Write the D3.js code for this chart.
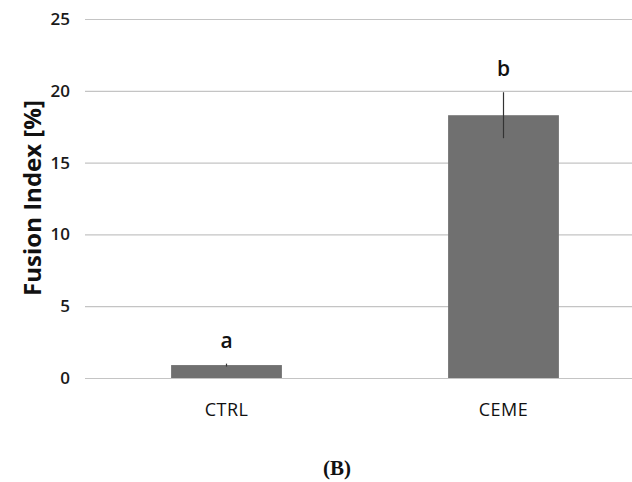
<!DOCTYPE html>
<html>
<head>
<meta charset="utf-8">
<script src="https://cdn.jsdelivr.net/npm/d3@7"></script>
<style>
  body { margin: 0; background: #fff; }
</style>
</head>
<body>
<div id="chart"></div>
<script>
// dados
var categories = ["CTRL", "CEME"];
var values = [0.9, 18.3];
var errors = [0.1, 1.6];
var letters = ["a", "b"];
var yTicks = [0, 5, 10, 15, 20, 25];

var W = 632, H = 482;

var svg = d3.select("#chart")
            .append("svg")
            .attr("width", W)
            .attr("height", H);

// escalas
var xScale = d3.scaleBand()
               .domain(categories)
               .range([88, 642])
               .paddingInner(0.6)
               .paddingOuter(0.3);

var yScale = d3.scaleLinear()
               .domain([0, 25])
               .range([378, 19]);

// grade horizontal
var yAxis = svg.append("g")
   .attr("transform", "translate(85,0)")
   .call(d3.axisLeft(yScale).tickValues(yTicks).tickSize(-(W - 85)).tickPadding(15));

yAxis.select(".domain").remove();
yAxis.selectAll(".tick line")
     .attr("stroke", "#c4c4c4")
     .attr("stroke-width", 1.2);
yAxis.selectAll(".tick text")
     .style("font-family", "'Open Sans', sans-serif")
     .style("font-size", "17px")
     .style("font-weight", "600")
     .attr("fill", "#1a1a1a");

// barras
svg.selectAll("rect.bar")
   .data(values)
   .enter()
   .append("rect")
   .attr("class", "bar")
   .attr("x", function(d, i) { return xScale(categories[i]); })
   .attr("y", function(d) { return yScale(d); })
   .attr("width", xScale.bandwidth())
   .attr("height", function(d) { return yScale(0) - yScale(d); })
   .attr("fill", "#707070");

// barras de erro
svg.selectAll("line.err")
   .data(values)
   .enter()
   .append("line")
   .attr("class", "err")
   .attr("x1", function(d, i) { return xScale(categories[i]) + xScale.bandwidth() / 2; })
   .attr("x2", function(d, i) { return xScale(categories[i]) + xScale.bandwidth() / 2; })
   .attr("y1", function(d, i) { return yScale(d - errors[i]); })
   .attr("y2", function(d, i) { return yScale(d + errors[i]); })
   .attr("stroke", "#333")
   .attr("stroke-width", 1.2);

// letras
svg.selectAll("text.letter")
   .data(values)
   .enter()
   .append("text")
   .attr("class", "letter")
   .attr("x", function(d, i) { return xScale(categories[i]) + xScale.bandwidth() / 2; })
   .attr("y", function(d, i) { return yScale(d + errors[i]) - 16; })
   .attr("text-anchor", "middle")
   .style("font-family", "'Open Sans', sans-serif")
   .style("font-size", "21px")
   .style("font-weight", "600")
   .attr("fill", "#111")
   .text(function(d, i) { return letters[i]; });

// eixo x (rótulos)
var xAxis = svg.append("g")
   .attr("transform", "translate(0,378)")
   .call(d3.axisBottom(xScale).tickSize(0).tickPadding(25));
xAxis.select(".domain").remove();
xAxis.selectAll(".tick text")
     .style("font-family", "'Open Sans', sans-serif")
     .style("font-size", "18px")
     .style("letter-spacing", "0.5px")
     .attr("fill", "#111");

// rótulo do eixo y
svg.append("text")
   .attr("x", -198)
   .attr("y", 41)
   .attr("transform", "rotate(-90)")
   .attr("text-anchor", "middle")
   .style("font-family", "'Open Sans', sans-serif")
   .style("font-size", "24px")
   .style("font-weight", "700")
   .attr("fill", "#111")
   .text("Fusion Index [%]");

// legenda do painel
svg.append("text")
   .attr("x", 337)
   .attr("y", 475)
   .attr("text-anchor", "middle")
   .style("font-family", "'Liberation Serif', serif")
   .style("font-size", "21px")
   .style("font-weight", "700")
   .attr("fill", "#111")
   .text("(B)");
</script>
</body>
</html>
